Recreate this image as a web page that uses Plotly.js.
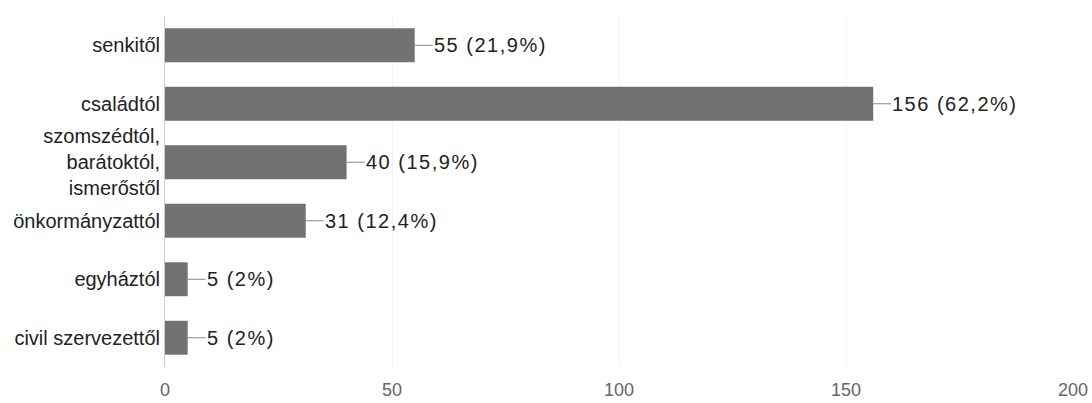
<!DOCTYPE html>
<html>
<head>
<meta charset="utf-8">
<script src="https://cdn.plot.ly/plotly-3.0.1.min.js"></script>
<style>
html,body{margin:0;padding:0;background:#fff;}
#chart{width:1092px;height:403px;}
.annotation-text{letter-spacing:1.5px;}
</style>
</head>
<body>
<div id="chart"></div>
<script>
const categories = ["senkitől", "családtól", "szomszédtól,<br>barátoktól,<br>ismerőstől", "önkormányzattól", "egyháztól", "civil szervezettől"];
const counts = [55, 156, 40, 31, 5, 5];
const percentLabels = ["21,9%", "62,2%", "15,9%", "12,4%", "2%", "2%"];
const xTicks = [0, 50, 100, 150, 200];

const trace = {
  type: "bar",
  orientation: "h",
  x: counts,
  y: categories,
  marker: {color: "#727272"},
  hoverinfo: "none"
};

const annotations = counts.map((v, i) => ({
  x: v, y: categories[i], xref: "x", yref: "y",
  text: v + " (" + percentLabels[i] + ")",
  showarrow: true, arrowhead: 0, arrowwidth: 1, arrowcolor: "#888",
  ax: 18, ay: 0, xanchor: "left", borderpad: 0,
  font: {family: "Liberation Sans, Arial, sans-serif", size: 20, color: "#222"}
}));

const layout = {
  width: 1092, height: 403,
  margin: {l: 165, r: 19, t: 16, b: 36},
  paper_bgcolor: "#fff", plot_bgcolor: "#fff",
  bargap: 0.42,
  showlegend: false,
  font: {family: "Liberation Sans, Arial, sans-serif", size: 20, color: "#222"},
  xaxis: {
    range: [0, 200], tickvals: xTicks, ticktext: xTicks.map(String),
    showgrid: true, gridcolor: "#f2f2f2", zeroline: false,
    ticks: "outside", ticklen: 6, tickcolor: "rgba(0,0,0,0)",
    tickfont: {size: 18, color: "#666"}, showline: false, fixedrange: true
  },
  yaxis: {
    autorange: "reversed", showgrid: false, zeroline: false,
    showline: true, linecolor: "#ccc", linewidth: 1,
    ticks: "", tickfont: {size: 20, color: "#222"}, fixedrange: true
  },
  annotations: annotations
};

Plotly.newPlot("chart", [trace], layout, {displayModeBar: false, staticPlot: true});
</script>
</body>
</html>
